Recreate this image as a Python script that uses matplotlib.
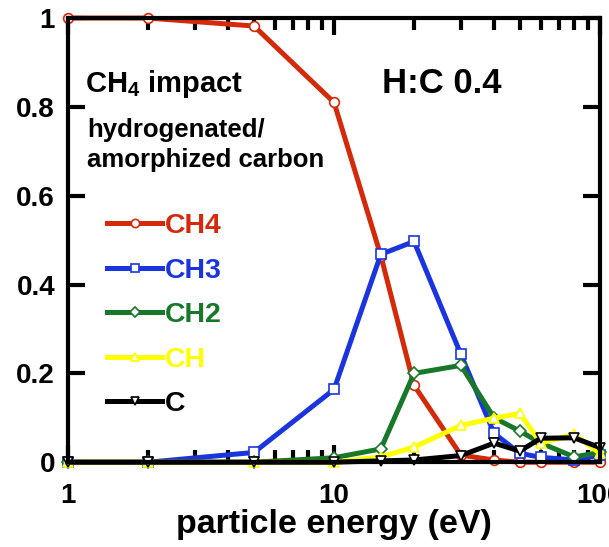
import numpy as np
import matplotlib.pyplot as plt

plt.rcParams['font.family'] = ['Liberation Sans', 'DejaVu Sans']
plt.rcParams['font.weight'] = 'bold'
plt.rcParams['mathtext.fontset'] = 'custom'
plt.rcParams['mathtext.rm'] = 'Liberation Sans:bold'
plt.rcParams['mathtext.bf'] = 'Liberation Sans:bold'

energy = [1, 2, 5, 10, 15, 20, 30, 40, 50, 60, 80, 100]
ch4 = [1.0, 1.0, 0.982, 0.81, 0.465, 0.173, 0.016, 0.005, 0.0, 0.0, 0.0, 0.0]
ch3 = [0.0, 0.0, 0.022, 0.164, 0.468, 0.497, 0.243, 0.065, 0.02, 0.011, 0.005, 0.016]
ch2 = [0.0, 0.0, 0.0, 0.01, 0.03, 0.2, 0.218, 0.1, 0.07, 0.043, 0.012, 0.022]
ch = [0.0, 0.0, 0.0, 0.0, 0.012, 0.034, 0.083, 0.099, 0.11, 0.043, 0.063, 0.02]
c = [0.0, 0.0, 0.0, 0.0, 0.003, 0.005, 0.015, 0.043, 0.025, 0.054, 0.055, 0.033]

series = [
    ('CH4', ch4, '#d42a0a', 'o'),
    ('CH3', ch3, '#1a35e0', 's'),
    ('CH2', ch2, '#18782a', 'D'),
    ('CH', ch, '#ffff00', '^'),
    ('C', c, 'black', 'v'),
]

fig = plt.figure(figsize=(6.09, 5.47), dpi=100)
ax = fig.add_axes([0.112, 0.155, 0.873, 0.812])

for name, vals, col, mk in series:
    ms = 6 if mk == 'D' else 7
    ax.plot(energy, vals, color=col, lw=3.6, marker=mk, ms=ms,
            mfc='white', mec=col, mew=1.2, label=name, clip_on=False)

ax.set_xscale('log')
ax.set_xlim(1, 100)
ax.set_ylim(0, 1)
ax.set_yticks([0, 0.2, 0.4, 0.6, 0.8, 1])
ax.set_yticklabels(['0', '0.2', '0.4', '0.6', '0.8', '1'])
ax.set_xticks([1, 10, 100])
ax.set_xticklabels(['1', '10', '100'])
ax.tick_params(which='major', direction='in', length=12, width=3,
               labelsize=20, top=True, right=True)
ax.tick_params(axis='x', which='major', pad=15)
ax.tick_params(axis='y', which='major', pad=9.5)
ax.tick_params(which='minor', direction='in', length=8.5, width=3,
               top=True, right=True)
ax.minorticks_on()
ax.yaxis.set_minor_locator(plt.NullLocator())
for s in ax.spines.values():
    s.set_linewidth(3)

ax.set_xlabel('particle energy (eV)', fontsize=24.5, fontweight='bold',
              labelpad=0)

ax.text(0.032, 0.833, r'CH$_\mathrm{4}$ impact', transform=ax.transAxes,
        fontsize=21, va='baseline')
ax.text(0.59, 0.831, 'H:C 0.4', transform=ax.transAxes, fontsize=25,
        va='baseline')
ax.text(0.035, 0.732, 'hydrogenated/', transform=ax.transAxes,
        fontsize=18.5, va='baseline')
ax.text(0.035, 0.664, 'amorphized carbon', transform=ax.transAxes,
        fontsize=18.5, va='baseline')

ax.legend(loc='upper left', bbox_to_anchor=(0.025, 0.618), frameon=False,
          fontsize=20.5, handlelength=1.93, handletextpad=0.1,
          labelspacing=0.65, numpoints=1, labelcolor='linecolor',
          markerscale=0.85)

fig.savefig('out.png', dpi=100)
